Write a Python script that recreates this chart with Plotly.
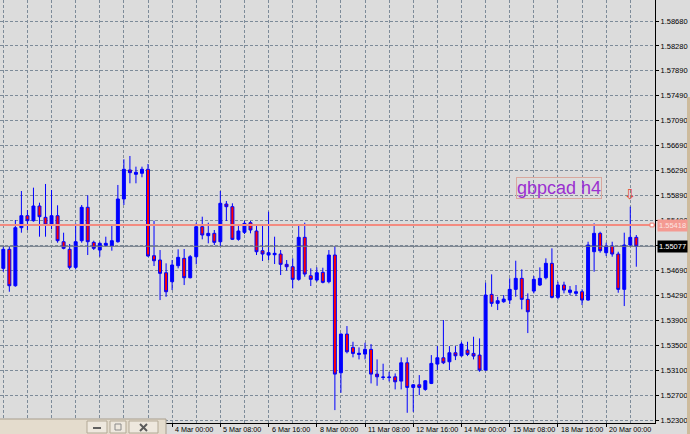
import plotly.graph_objects as go

# ---- data (GBPCAD H4 candles) ----
open_ = [1.54725, 1.55029, 1.54447, 1.55375, 1.55567, 1.55487, 1.55722, 1.55541, 1.55418, 1.55567,
         1.55151, 1.55029, 1.54741, 1.55167, 1.55701, 1.55141, 1.55018, 1.55093, 1.55082, 1.55151,
         1.55834, 1.56298, 1.56229, 1.56245, 1.56309, 1.54927, 1.54858, 1.54655, 1.54511, 1.54767,
         1.54885, 1.54575, 1.54911, 1.55391, 1.55247, 1.55285, 1.55151, 1.55754, 1.55711, 1.55189,
         1.55301, 1.55455, 1.55322, 1.55007, 1.54938, 1.54943, 1.54954, 1.54789, 1.54751, 1.54549,
         1.55221, 1.54607, 1.54538, 1.54661, 1.54511, 1.54938, 1.53055, 1.53674, 1.53461, 1.53349,
         1.53354, 1.53429, 1.53034, 1.52981, 1.52978, 1.52991, 1.52922, 1.53215, 1.52821, 1.52863,
         1.52789, 1.52885, 1.53194, 1.53295, 1.53231, 1.53375, 1.53327, 1.53418, 1.53365, 1.53338,
         1.53098, 1.54309, 1.54165, 1.54191, 1.54218, 1.54389, 1.54565, 1.54229, 1.54362, 1.54458,
         1.54575, 1.54805, 1.54261, 1.54458, 1.54341, 1.54325, 1.54351, 1.54218, 1.54991, 1.55285,
         1.54975, 1.55082, 1.54954, 1.54389, 1.55098, 1.55221]
high = [1.55082, 1.55082, 1.55498, 1.55962, 1.55658, 1.56015, 1.55775, 1.56074, 1.55978, 1.55733,
        1.55295, 1.55114, 1.55445, 1.55738, 1.55893, 1.55167, 1.55151, 1.55231, 1.55413, 1.56058,
        1.56469, 1.56522, 1.56351, 1.56351, 1.56394, 1.55487, 1.55018, 1.54805, 1.54858, 1.55029,
        1.55034, 1.54938, 1.55455, 1.55551, 1.55455, 1.55338, 1.55962, 1.55802, 1.55765, 1.55402,
        1.55487, 1.55482, 1.55418, 1.55402, 1.55631, 1.55231, 1.55018, 1.54858, 1.54885, 1.55402,
        1.55455, 1.54725, 1.54741, 1.54735, 1.55018, 1.55082, 1.53685, 1.53802, 1.53551, 1.53461,
        1.53535, 1.53514, 1.53269, 1.53200, 1.53071, 1.53045, 1.53301, 1.53301, 1.52874, 1.53018,
        1.52938, 1.53338, 1.53482, 1.53898, 1.53482, 1.53482, 1.53551, 1.53551, 1.53631, 1.53605,
        1.54495, 1.54629, 1.54271, 1.54298, 1.54565, 1.54847, 1.54709, 1.54325, 1.54602, 1.54741,
        1.54885, 1.55045, 1.54511, 1.54511, 1.54442, 1.54458, 1.54389, 1.55151, 1.55445, 1.55311,
        1.55135, 1.55151, 1.54991, 1.55295, 1.55711, 1.55258]
low = [1.54671, 1.54351, 1.54431, 1.55295, 1.55338, 1.55471, 1.55231, 1.55231, 1.55349, 1.55135,
       1.55029, 1.54709, 1.54709, 1.55135, 1.54938, 1.55018, 1.54911, 1.55071, 1.55007, 1.55135,
       1.55738, 1.56085, 1.56085, 1.56181, 1.54911, 1.54762, 1.54218, 1.54270, 1.54378, 1.54725,
       1.54458, 1.54565, 1.54789, 1.55189, 1.55125, 1.55098, 1.55082, 1.55482, 1.55178, 1.55167,
       1.55274, 1.55285, 1.54938, 1.54842, 1.54858, 1.54794, 1.54618, 1.54687, 1.54405, 1.54527,
       1.54591, 1.54442, 1.54511, 1.54485, 1.54485, 1.52458, 1.52735, 1.53365, 1.53301, 1.53269,
       1.53269, 1.52885, 1.52847, 1.52940, 1.52917, 1.52789, 1.52789, 1.52415, 1.52431, 1.52698,
       1.52767, 1.52874, 1.53098, 1.53194, 1.53098, 1.53258, 1.53311, 1.53322, 1.53269, 1.53071,
       1.53087, 1.54111, 1.54058, 1.54175, 1.54154, 1.54271, 1.54069, 1.53690, 1.54325, 1.54442,
       1.54549, 1.54245, 1.54229, 1.54325, 1.54298, 1.54282, 1.54138, 1.54207, 1.54671, 1.54975,
       1.54922, 1.54911, 1.54335, 1.54122, 1.55071, 1.54751]
close = [1.55029, 1.54447, 1.55375, 1.55567, 1.55487, 1.55722, 1.55551, 1.55418, 1.55567, 1.55167,
         1.55045, 1.54741, 1.55151, 1.55701, 1.55151, 1.55045, 1.55125, 1.55125, 1.55167, 1.55834,
         1.56309, 1.56255, 1.56261, 1.56309, 1.54922, 1.54847, 1.54645, 1.54351, 1.54778, 1.54901,
         1.54575, 1.54911, 1.55391, 1.55258, 1.55285, 1.55141, 1.55765, 1.55711, 1.55189, 1.55322,
         1.55445, 1.55338, 1.54991, 1.54954, 1.54975, 1.54965, 1.54789, 1.54751, 1.54549, 1.55221,
         1.54634, 1.54549, 1.54655, 1.54501, 1.54938, 1.53034, 1.53674, 1.53391, 1.53365, 1.53365,
         1.53429, 1.53034, 1.52991, 1.52986, 1.52986, 1.52911, 1.53215, 1.52821, 1.52863, 1.52821,
         1.52927, 1.53205, 1.53295, 1.53215, 1.53375, 1.53327, 1.53514, 1.53349, 1.53322, 1.53098,
         1.54298, 1.54165, 1.54207, 1.54234, 1.54389, 1.54565, 1.54229, 1.54031, 1.54549, 1.54565,
         1.54805, 1.54261, 1.54458, 1.54378, 1.54378, 1.54351, 1.54218, 1.55098, 1.55285, 1.55007,
         1.55082, 1.54954, 1.54389, 1.55098, 1.55221, 1.55077]
bars = list(range(len(open_)))

x_tick_bars = [28, 36, 44, 52, 60, 68, 76, 84, 92, 100]
x_tick_text = ["4 Mar 00:00", "5 Mar 08:00", "6 Mar 16:00", "8 Mar 00:00", "11 Mar 08:00",
               "12 Mar 16:00", "14 Mar 00:00", "15 Mar 08:00", "18 Mar 16:00", "20 Mar 00:00"]
y_grid_vals = [1.58680, 1.58281, 1.57883, 1.57484, 1.57085, 1.56686, 1.56288, 1.55889, 1.55490,
               1.55091, 1.54693, 1.54294, 1.53895, 1.53496, 1.53098, 1.52699, 1.52300]
y_tick_text = ["1.58680", "1.58280", "1.57890", "1.57490", "1.57090", "1.56690", "1.56290", "1.55890",
               "1.55490", "1.55090", "1.54690", "1.54290", "1.53900", "1.53500", "1.53100", "1.52700",
               "1.52300"]
level_price = 1.55418
bid_price = 1.55077
arrow_bar = 104
arrow_price = 1.55906
title_text = "gbpcad h4"

# ---- layout geometry (pixels) ----
W, H = 690, 434
ML, MR, MT, MB = 0, 35, 0, 11
PW, PH = W - ML - MR, H - MT - MB


def px(x):
    return (x - ML) / PW


def py(y):
    return (H - MB - y) / PH


BG = "#DCDCDC"
GRID = "#7D8B99"
FONT = "Liberation Sans, Arial, sans-serif"

fig = go.Figure(go.Candlestick(
    x=bars, open=open_, high=high, low=low, close=close,
    increasing=dict(fillcolor="#0000FF", line=dict(color="#0000FF", width=1)),
    decreasing=dict(fillcolor="#FF0000", line=dict(color="#0000FF", width=1)),
    whiskerwidth=0, hoverinfo="skip", showlegend=False,
))


def prect(x0, y0, x1, y1, fill, line, lw=1):
    return dict(type="rect", xref="paper", yref="paper", x0=px(x0), x1=px(x1),
                y0=py(y1), y1=py(y0), fillcolor=fill, line=dict(color=line, width=lw),
                layer="above")


def pline(x0, y0, x1, y1, color, lw=1):
    return dict(type="line", xref="paper", yref="paper", x0=px(x0), x1=px(x1),
                y0=py(y0), y1=py(y1), line=dict(color=color, width=lw), layer="above")


shapes = [
    # horizontal level line
    dict(type="line", xref="paper", yref="y", x0=0, x1=1, y0=level_price, y1=level_price,
         line=dict(color="#F38B80", width=2), layer="above"),
    dict(type="rect", xref="paper", yref="y", x0=px(650), x1=px(654),
         y0=level_price - 0.0003, y1=level_price + 0.0003,
         fillcolor="#FFFFFF", line=dict(color="#F07A70", width=1), layer="above"),
    # bid line
    dict(type="line", xref="paper", yref="y", x0=0, x1=1, y0=bid_price, y1=bid_price,
         line=dict(color="#6E7884", width=1), layer="above"),
    # right tan strip
    dict(type="rect", xref="paper", yref="paper", x0=px(687), x1=px(691), y0=py(440), y1=py(97),
         fillcolor="#CDBB9C", line=dict(width=0), layer="above"),
    # minimized window at bottom-left
    prect(-2, 419, 166, 440, "#E4DCCD", "#A89E8E"),
    prect(87, 421, 107, 433, "#EEE8DE", "#B3A996"),
    prect(110, 421, 126, 433, "#EEE8DE", "#B3A996"),
    prect(129, 421, 158, 433, "#EEE8DE", "#B3A996"),
    # window button glyphs
    pline(93, 428, 101, 428, "#606060", 2),
    prect(115, 424, 121, 430, "rgba(0,0,0,0)", "#8A8A8A"),
    pline(140, 424, 147, 431, "#5A5A5A", 2),
    pline(140, 431, 147, 424, "#5A5A5A", 2),
]

annotations = []
for b, t in zip(x_tick_bars, x_tick_text):
    annotations.append(dict(x=b, y=0, xref="x", yref="paper", text=t, showarrow=False,
                            xanchor="left", yanchor="top", xshift=1, yshift=0,
                            font=dict(family=FONT, size=7.2, color="#000000")))
annotations += [
    dict(x=1, y=level_price, xref="paper", yref="y", text="1.55418", showarrow=False,
         xanchor="left", yanchor="middle", xshift=2, bgcolor="#F49A92",
         font=dict(family=FONT, size=7.5, color="#FCE4E1"), borderpad=1),
    dict(x=1, y=bid_price, xref="paper", yref="y", text="1.55077", showarrow=False,
         xanchor="left", yanchor="middle", xshift=2, bgcolor="#000000",
         font=dict(family=FONT, size=7.5, color="#FFFFFF"), borderpad=1),
    dict(x=px(558.5), y=py(188), xref="paper", yref="paper", text=title_text, showarrow=False,
         xanchor="center", yanchor="middle", bordercolor="#D9A89E", borderwidth=1, borderpad=0,
         font=dict(family=FONT, size=18, color="#9B30D0")),
    dict(x=arrow_bar, y=arrow_price, xref="x", yref="y", text="⇩", showarrow=False,
         xanchor="center", yanchor="middle",
         font=dict(family="DejaVu Sans", size=14, color="#E8432E")),
]

fig.update_layout(
    width=W, height=H, margin=dict(l=ML, r=MR, t=MT, b=MB, pad=0),
    paper_bgcolor=BG, plot_bgcolor=BG, showlegend=False,
    xaxis=dict(range=[-0.55, 108.1], rangeslider=dict(visible=False),
               tickmode="array", tickvals=x_tick_bars, showticklabels=False,
               ticks="outside", ticklen=3, tickcolor="#000000",
               showgrid=True, gridcolor=GRID, griddash="3px,2px", gridwidth=1,
               minor=dict(tickmode="linear", tick0=0, dtick=4, showgrid=True,
                          gridcolor=GRID, griddash="3px,2px", gridwidth=1, ticks=""),
               showline=True, linecolor="#000000", linewidth=1, zeroline=False, fixedrange=True),
    yaxis=dict(range=[1.52252, 1.59016], side="right", tickmode="array",
               tickvals=y_grid_vals, ticktext=y_tick_text,
               ticks="outside", ticklen=3, tickcolor="#000000",
               tickfont=dict(family=FONT, size=7.5, color="#000000"),
               showgrid=True, gridcolor=GRID, griddash="3px,2px", gridwidth=1,
               showline=True, linecolor="#000000", linewidth=1, zeroline=False, fixedrange=True),
    shapes=shapes, annotations=annotations,
)

fig.write_html("out.html", config={"displayModeBar": False},
               post_script="document.body.style.margin='0';document.body.style.overflow='hidden';")
